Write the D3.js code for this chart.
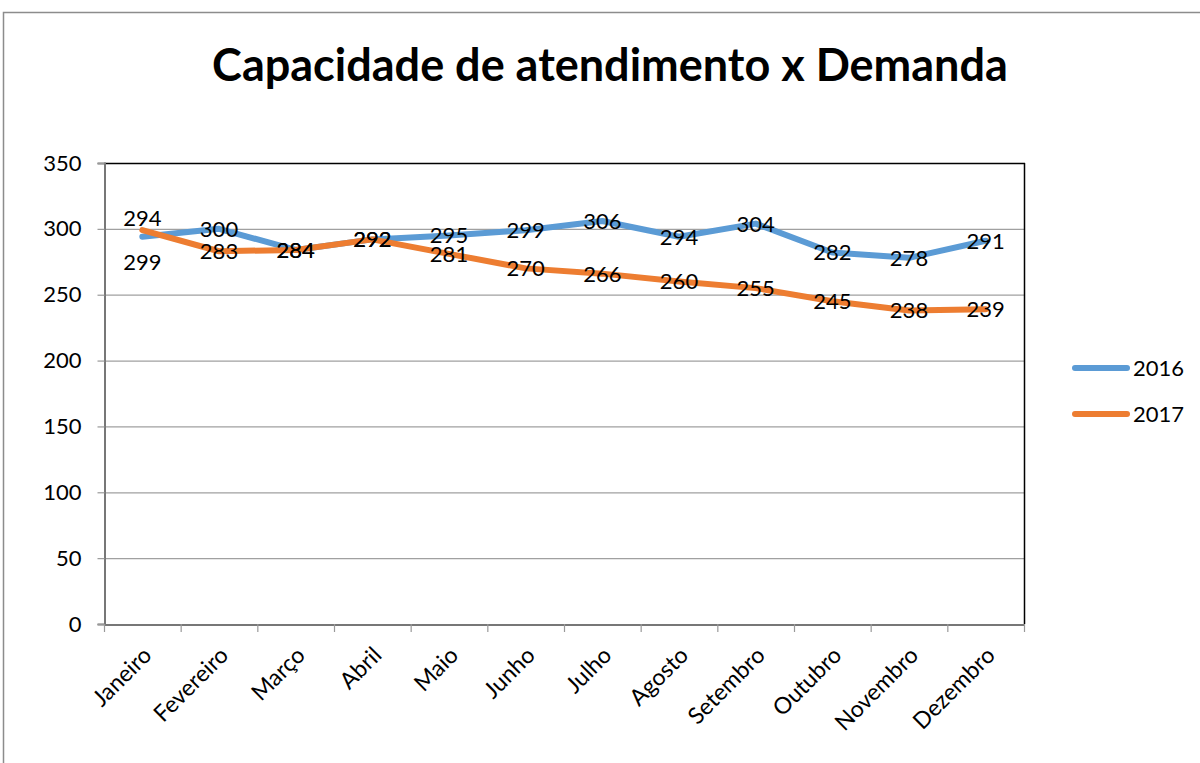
<!DOCTYPE html>
<html>
<head>
<meta charset="utf-8">
<title>Capacidade de atendimento x Demanda</title>
<script src="https://cdnjs.cloudflare.com/ajax/libs/d3/7.8.5/d3.min.js"></script>
<style>
body { margin: 0; background: #fff; }
text { font-family: Lato, "Open Sans", sans-serif; fill: #000; }
</style>
</head>
<body>
<script>
// chart data
var months = ["Janeiro", "Fevereiro", "Março", "Abril", "Maio", "Junho",
              "Julho", "Agosto", "Setembro", "Outubro", "Novembro", "Dezembro"];
var values2016 = [294, 300, 284, 292, 295, 299, 306, 294, 304, 282, 278, 291];
var values2017 = [299, 283, 284, 292, 281, 270, 266, 260, 255, 245, 238, 239];
var yTicks = [0, 50, 100, 150, 200, 250, 300, 350];
var seriesNames = ["2016", "2017"];
var colors = ["#5B9BD5", "#ED7D31"];

var width = 1200, height = 763;
var plotLeft = 104, plotRight = 1024, plotTop = 163, plotBottom = 624;

var svg = d3.select("body").append("svg")
    .attr("width", width)
    .attr("height", height);

svg.append("rect").attr("width", width).attr("height", height).attr("fill", "#fff");

// outer chart frame
svg.append("rect")
    .attr("x", 3.5).attr("y", 12.5)
    .attr("width", 1300).attr("height", 900)
    .attr("fill", "none").attr("stroke", "#8c8c8c").attr("stroke-width", 1.5);

svg.append("text")
    .attr("x", 610).attr("y", 81)
    .attr("text-anchor", "middle")
    .style("font-size", "45px").style("font-weight", "bold")
    .text("Capacidade de atendimento x Demanda");

var x = d3.scaleBand().domain(months).range([plotLeft, plotRight]);
var y = d3.scaleLinear().domain([0, 350]).range([plotBottom, plotTop]);

// gridlines
svg.append("g").selectAll("line")
    .data(yTicks.slice(1, -1))
    .enter().append("line")
    .attr("x1", plotLeft).attr("x2", plotRight)
    .attr("y1", function(d) { return y(d) + 0.5; })
    .attr("y2", function(d) { return y(d) + 0.5; })
    .attr("stroke", "#a0a0a0").attr("stroke-width", 1.2);

// plot border: top and right are black
svg.append("line").attr("x1", plotLeft).attr("x2", plotRight + 1)
    .attr("y1", plotTop + 0.5).attr("y2", plotTop + 0.5)
    .attr("stroke", "#000").attr("stroke-width", 1.5);
svg.append("line").attr("x1", plotRight + 0.5).attr("x2", plotRight + 0.5)
    .attr("y1", plotTop).attr("y2", plotBottom)
    .attr("stroke", "#000").attr("stroke-width", 1.5);

// y axis
var yAxis = svg.append("g")
    .attr("transform", "translate(" + (plotLeft + 0.5) + ",0)")
    .call(d3.axisLeft(y).tickValues(yTicks).tickSize(7).tickPadding(16));
yAxis.select(".domain").attr("stroke", "#777").attr("stroke-width", 2);
yAxis.selectAll(".tick line").attr("stroke", "#999").attr("stroke-width", 1.2);
yAxis.selectAll(".tick text").style("font-size", "22px").attr("fill", "#000");

// x axis
var xAxis = svg.append("g")
    .attr("transform", "translate(0," + (plotBottom + 0.5) + ")")
    .call(d3.axisBottom(x).tickSize(0).tickFormat(""));
xAxis.select(".domain").attr("stroke", "#777").attr("stroke-width", 2);

var edges = months.map(function(m) { return x(m); }).concat([plotRight]);
svg.append("g").selectAll("line")
    .data(edges)
    .enter().append("line")
    .attr("x1", function(d) { return d + 0.5; })
    .attr("x2", function(d) { return d + 0.5; })
    .attr("y1", plotBottom).attr("y2", plotBottom + 8)
    .attr("stroke", "#999").attr("stroke-width", 1.2);

svg.append("g").selectAll("text")
    .data(months)
    .enter().append("text")
    .attr("transform", function(d) {
        return "translate(" + (x(d) + x.bandwidth() / 2 + 5) + "," + (plotBottom + 27) + ") rotate(-45)";
    })
    .attr("text-anchor", "end")
    .attr("dy", "0.35em")
    .style("font-size", "23px")
    .text(function(d) { return d; });

// lines
var series = [values2016, values2017];
var line = d3.line()
    .x(function(d, i) { return x(months[i]) + x.bandwidth() / 2; })
    .y(function(d) { return y(d); });

series.forEach(function(vals, s) {
    svg.append("path")
        .datum(vals)
        .attr("d", line)
        .attr("fill", "none")
        .attr("stroke", colors[s])
        .attr("stroke-width", 6)
        .attr("stroke-linejoin", "round")
        .attr("stroke-linecap", "round");
});

// data labels (Janeiro labels were moved by hand in the original)
var janShift = [-19, 32];
series.forEach(function(vals, s) {
    svg.append("g").selectAll("text")
        .data(vals)
        .enter().append("text")
        .attr("x", function(d, i) { return x(months[i]) + x.bandwidth() / 2; })
        .attr("y", function(d, i) { return y(d) + (i === 0 ? janShift[s] : 0); })
        .attr("dy", "0.36em")
        .attr("text-anchor", "middle")
        .style("font-size", "22px")
        .text(function(d) { return d; });
});

// legend
var legend = svg.append("g").selectAll("g")
    .data(seriesNames)
    .enter().append("g")
    .attr("transform", function(d, i) { return "translate(1075," + (368 + i * 46) + ")"; });
legend.append("line")
    .attr("x1", 0).attr("x2", 52)
    .attr("stroke", function(d, i) { return colors[i]; })
    .attr("stroke-width", 6)
    .attr("stroke-linecap", "round");
legend.append("text")
    .attr("x", 58).attr("dy", "0.36em")
    .style("font-size", "22px")
    .text(function(d) { return d; });
</script>
</body>
</html>
